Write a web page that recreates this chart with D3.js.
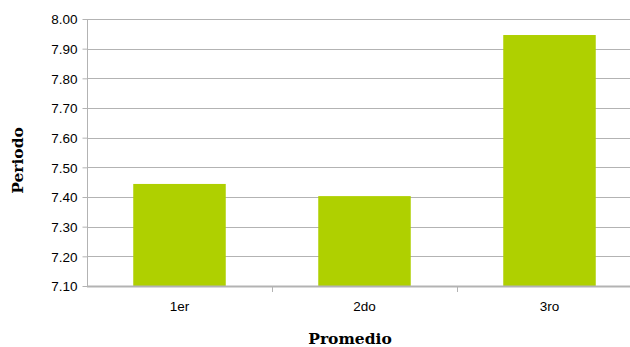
<!DOCTYPE html>
<html>
<head>
<meta charset="utf-8">
<script src="https://cdn.jsdelivr.net/npm/d3@7"></script>
<style>
  html, body { margin: 0; padding: 0; background: #fff; }
  svg { display: block; }
</style>
</head>
<body>
<svg id="chart" width="630" height="347"></svg>
<script>
const categories = ["1er", "2do", "3ro"];
const values = [7.444, 7.403, 7.946];
const yTicks = [7.10, 7.20, 7.30, 7.40, 7.50, 7.60, 7.70, 7.80, 7.90, 8.00];
const xTitle = "Promedio";
const yTitle = "Periodo";

(function () {
const svg = d3.select("#chart");
const pLeft = 87, pRight = 642, pTop = 19, pBottom = 286;

const x = d3.scaleBand().domain(categories).range([pLeft, pRight])
  .paddingInner(0.5).paddingOuter(0.25);
const y = d3.scaleLinear().domain([7.1, 8.0]).range([pBottom, pTop]);

const grid = "#b3b3b3";

// gridlines
svg.append("g").selectAll("line").data(yTicks).join("line")
  .attr("x1", pLeft).attr("x2", 630)
  .attr("y1", d => Math.round(y(d)) + 0.5).attr("y2", d => Math.round(y(d)) + 0.5)
  .attr("stroke", grid).attr("stroke-width", 1);

// bars
svg.append("g").selectAll("rect").data(values).join("rect")
  .attr("x", (d, i) => x(categories[i]))
  .attr("width", x.bandwidth())
  .attr("y", d => y(d))
  .attr("height", d => y(7.1) - y(d))
  .attr("fill", "#afd000");

// y axis
const yAxis = d3.axisLeft(y).tickValues(yTicks).tickSize(5).tickPadding(5)
  .tickFormat(d3.format(".2f"));
const gy = svg.append("g").attr("transform", `translate(${pLeft + 0.5},0)`).call(yAxis);
gy.select(".domain").attr("stroke", grid).attr("d", `M0,${pTop}V${pBottom}`);
gy.selectAll(".tick line").attr("stroke", grid);
gy.selectAll(".tick text")
  .attr("font-family", "'Liberation Sans', Arial, sans-serif")
  .attr("font-size", 13.5).attr("fill", "#000").attr("dy", "0.36em");

// x axis
const xAxis = d3.axisBottom(x).tickSize(0).tickPadding(15);
const gx = svg.append("g").attr("transform", `translate(0,${pBottom})`).call(xAxis);
gx.select(".domain").remove();
gx.selectAll(".tick text")
  .attr("font-family", "'Liberation Sans', Arial, sans-serif")
  .attr("font-size", 13.5).attr("fill", "#000");
svg.append("line").attr("x1", pLeft).attr("x2", 630)
  .attr("y1", pBottom + 0.5).attr("y2", pBottom + 0.5)
  .attr("stroke", grid).attr("stroke-width", 2);
// category boundary ticks
const bounds = categories.map((c, i) => x(c) + x.bandwidth() + x.step() * x.paddingInner() / 2);
svg.append("g").selectAll("line").data(bounds).join("line")
  .attr("x1", d => Math.round(d) + 0.5).attr("x2", d => Math.round(d) + 0.5)
  .attr("y1", pBottom).attr("y2", pBottom + 6)
  .attr("stroke", grid);

// titles
svg.append("text").attr("x", 350).attr("y", 344)
  .attr("text-anchor", "middle")
  .attr("font-family", "'DejaVu Serif', serif").attr("font-weight", "bold")
  .attr("font-size", 15.5).attr("fill", "#000").text(xTitle);
svg.append("text").attr("transform", "translate(23,160.5) rotate(-90)")
  .attr("text-anchor", "middle")
  .attr("font-family", "'DejaVu Serif', serif").attr("font-weight", "bold")
  .attr("font-size", 15.5).attr("fill", "#000").text(yTitle);
})();
</script>
</body>
</html>
